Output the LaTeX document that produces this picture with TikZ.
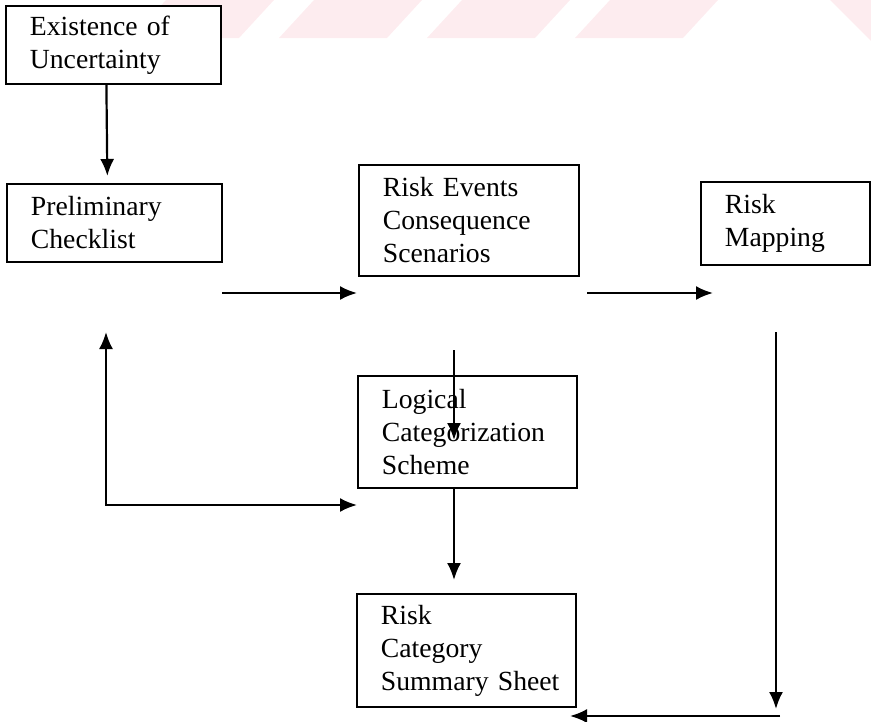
\documentclass[tikz,border=0pt]{standalone}
\usepackage{fontspec}
\setmainfont{Liberation Serif}
\usetikzlibrary{arrows.meta}

\definecolor{stripepink}{RGB}{253,236,239}

\tikzset{
    stagebox/.style={draw, line width=1.8pt, fill=white, anchor=north west,
        align=left, inner xsep=24pt, inner ysep=0pt,
        font=\fontsize{27.7}{33}\selectfont},
    flow/.style={line width=2.2pt, -{Latex[length=17pt,width=14pt]}},
    stripe/.style={fill=stripepink}
}

\begin{document}
\begin{tikzpicture}[x=1pt, y=-1pt]
    \useasboundingbox (0,0) rectangle (871,721);

    % Draw the faded stripes along the top edge
    \foreach \s in {166,314,462,610} {
        \fill[stripe] (\s,0) -- ({\s+108},0) -- ({\s+73},38) -- ({\s-35},38) -- cycle;
    }
    \fill[stripe] (830,0) -- (871,0) -- (871,41) -- cycle;

    % Draw the boxes
    \node[stagebox, text width=167pt, minimum height=78pt] (exist) at (5,5) {Existence of\\Uncertainty};
    \node[stagebox, text width=167pt, minimum height=78pt] (prelim) at (6,183) {Preliminary\\Checklist};
    \node[stagebox, text width=172pt, minimum height=111pt] (events) at (358,164) {Risk Events\\Consequence\\Scenarios};
    \node[stagebox, text width=121pt, minimum height=83pt] (mapping) at (700,181) {Risk\\Mapping};
    \node[stagebox, text width=171pt, minimum height=112pt] (logical) at (357,375) {Logical\\Categorization\\Scheme};
    \node[stagebox, text width=171pt, minimum height=113pt] (summary) at (356,593) {Risk\\Category\\\mbox{Summary Sheet}};

    % Free ends of the arrows
    \coordinate (toevents) at (222,293);
    \coordinate (atevents) at (357,293);
    \coordinate (tomapping) at (587,293);
    \coordinate (atmapping) at (713,293);
    \coordinate (backtop) at (106,332);
    \coordinate (backend) at (357,505);
    \coordinate (catin) at (454,350);
    \coordinate (catmid) at (454,440);
    \coordinate (sumtop) at (454,580);
    \coordinate (maptop) at (776,332);
    \coordinate (mapbottom) at (776,709);
    \coordinate (returnstart) at (780,716);
    \coordinate (returnend) at (570,716);

    % Draw the arrows
    \draw[flow, shorten >=7pt] ([xshift=-7pt]exist.south) -- ([xshift=-7pt]prelim.north);
    \draw[flow] (toevents) -- (atevents);
    \draw[flow] (tomapping) -- (atmapping);
    \draw[line width=2.2pt, {Latex[length=17pt,width=14pt]}-{Latex[length=17pt,width=14pt]}] (backtop) |- (backend);
    \draw[flow] (catin) -- (catmid);
    \draw[flow] (logical.south -| catin) -- (sumtop);
    \draw[flow] (maptop) -- (mapbottom);
    \draw[flow] (returnstart) -- (returnend);

\end{tikzpicture}
\end{document}
